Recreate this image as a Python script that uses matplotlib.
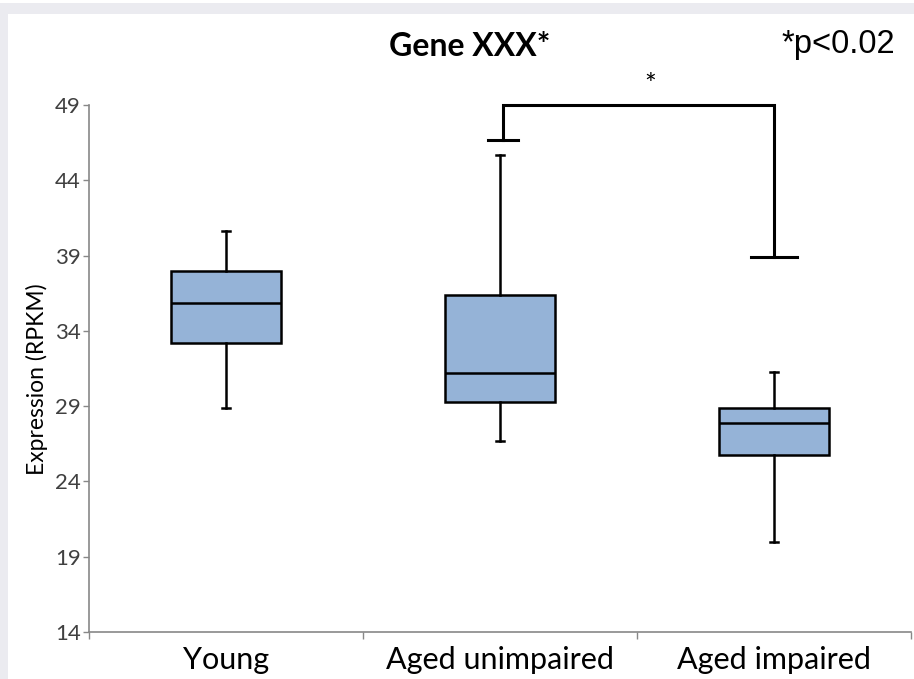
import matplotlib
matplotlib.use("Agg")
import matplotlib.pyplot as plt
from matplotlib.patches import Rectangle

categories = ["Young", "Aged unimpaired", "Aged impaired"]
whisker_low = [28.9, 26.7, 20.0]
q1 = [33.2, 29.3, 25.75]
median = [35.85, 31.2, 27.9]
q3 = [38.0, 36.4, 28.9]
whisker_high = [40.6, 45.7, 31.3]
yticks = [14, 19, 24, 29, 34, 39, 44, 49]

# significance bracket values
bracket_top = 49.0
bracket_left_end = 46.7
bracket_right_end = 38.9

plt.rcParams['font.family'] = ['Lato', 'DejaVu Sans']

fig = plt.figure(figsize=(9.14, 6.79), dpi=100)
fig.patch.set_facecolor('#EBEBF0')
fig.patches.append(Rectangle((8/914, 0), 1, (679-14)/679, transform=fig.transFigure,
                             facecolor='white', edgecolor='none', zorder=-10))
fig.patches.append(Rectangle((0, (679-3)/679), 1, 3/679, transform=fig.transFigure,
                             facecolor='white', edgecolor='none', zorder=-10))

ax = fig.add_axes([89/914, 47/679, (911-89)/914, (632-105)/679])
ax.set_facecolor('none')
ax.set_zorder(5)

stats = []
for i, c in enumerate(categories):
    stats.append(dict(label=c, whislo=whisker_low[i], q1=q1[i], med=median[i],
                      q3=q3[i], whishi=whisker_high[i], fliers=[]))

ax.bxp(stats, positions=range(len(categories)), widths=0.405, patch_artist=True,
       showfliers=False, capwidths=0.03,
       boxprops=dict(facecolor='#95B3D7', edgecolor='black', linewidth=1.8),
       medianprops=dict(color='black', linewidth=1.8),
       whiskerprops=dict(color='black', linewidth=1.8),
       capprops=dict(color='black', linewidth=1.8))

ax.set_xlim(-0.5, 2.5)
ax.set_ylim(14, 49)
ax.set_yticks(yticks)
ax.set_yticklabels([str(t) for t in yticks], fontsize=16, color='#404040')
ax.set_xticks([-0.5, 0.5, 1.5, 2.5])
ax.set_xticklabels([])
ax.set_xticks(range(len(categories)), minor=True)
ax.set_xticklabels(categories, minor=True, fontsize=22)
ax.tick_params(axis='x', which='minor', length=0, pad=10)
ax.tick_params(axis='x', which='major', length=5, color='#888888', width=1)
ax.tick_params(axis='y', length=4, color='#888888', width=1, pad=2)
for s in ['top', 'right']:
    ax.spines[s].set_visible(False)
for s in ['left', 'bottom']:
    ax.spines[s].set_color('#888888')
    ax.spines[s].set_linewidth(1.2)

ax.set_ylabel("Expression (RPKM)", fontsize=16.5)
ax.yaxis.set_label_coords(-0.050, 0.48)

# significance bracket
lx, rx = 1.01, 2.0
ax.plot([lx, lx, rx, rx], [bracket_left_end, bracket_top, bracket_top, bracket_right_end],
        color='black', lw=2.2, clip_on=False, solid_joinstyle='miter')
ax.plot([lx-0.055, lx+0.055], [bracket_left_end]*2, color='black', lw=2.2, clip_on=False)
ax.plot([rx-0.084, rx+0.084], [bracket_right_end]*2, color='black', lw=2.2, clip_on=False)
ax.text(1.547, bracket_top + 0.4, "*", ha='center', va='bottom', fontsize=20)

fig.text(470/914, 1-47/679, "Gene XXX*", ha='center', va='center', fontsize=23, fontweight='bold')
fig.text(838/914, 1-45/679, "*p<0.02", ha='center', va='center', fontsize=23.5,
         family=['Liberation Sans', 'DejaVu Sans'])

fig.savefig("out.png", dpi=100, facecolor=fig.get_facecolor())
